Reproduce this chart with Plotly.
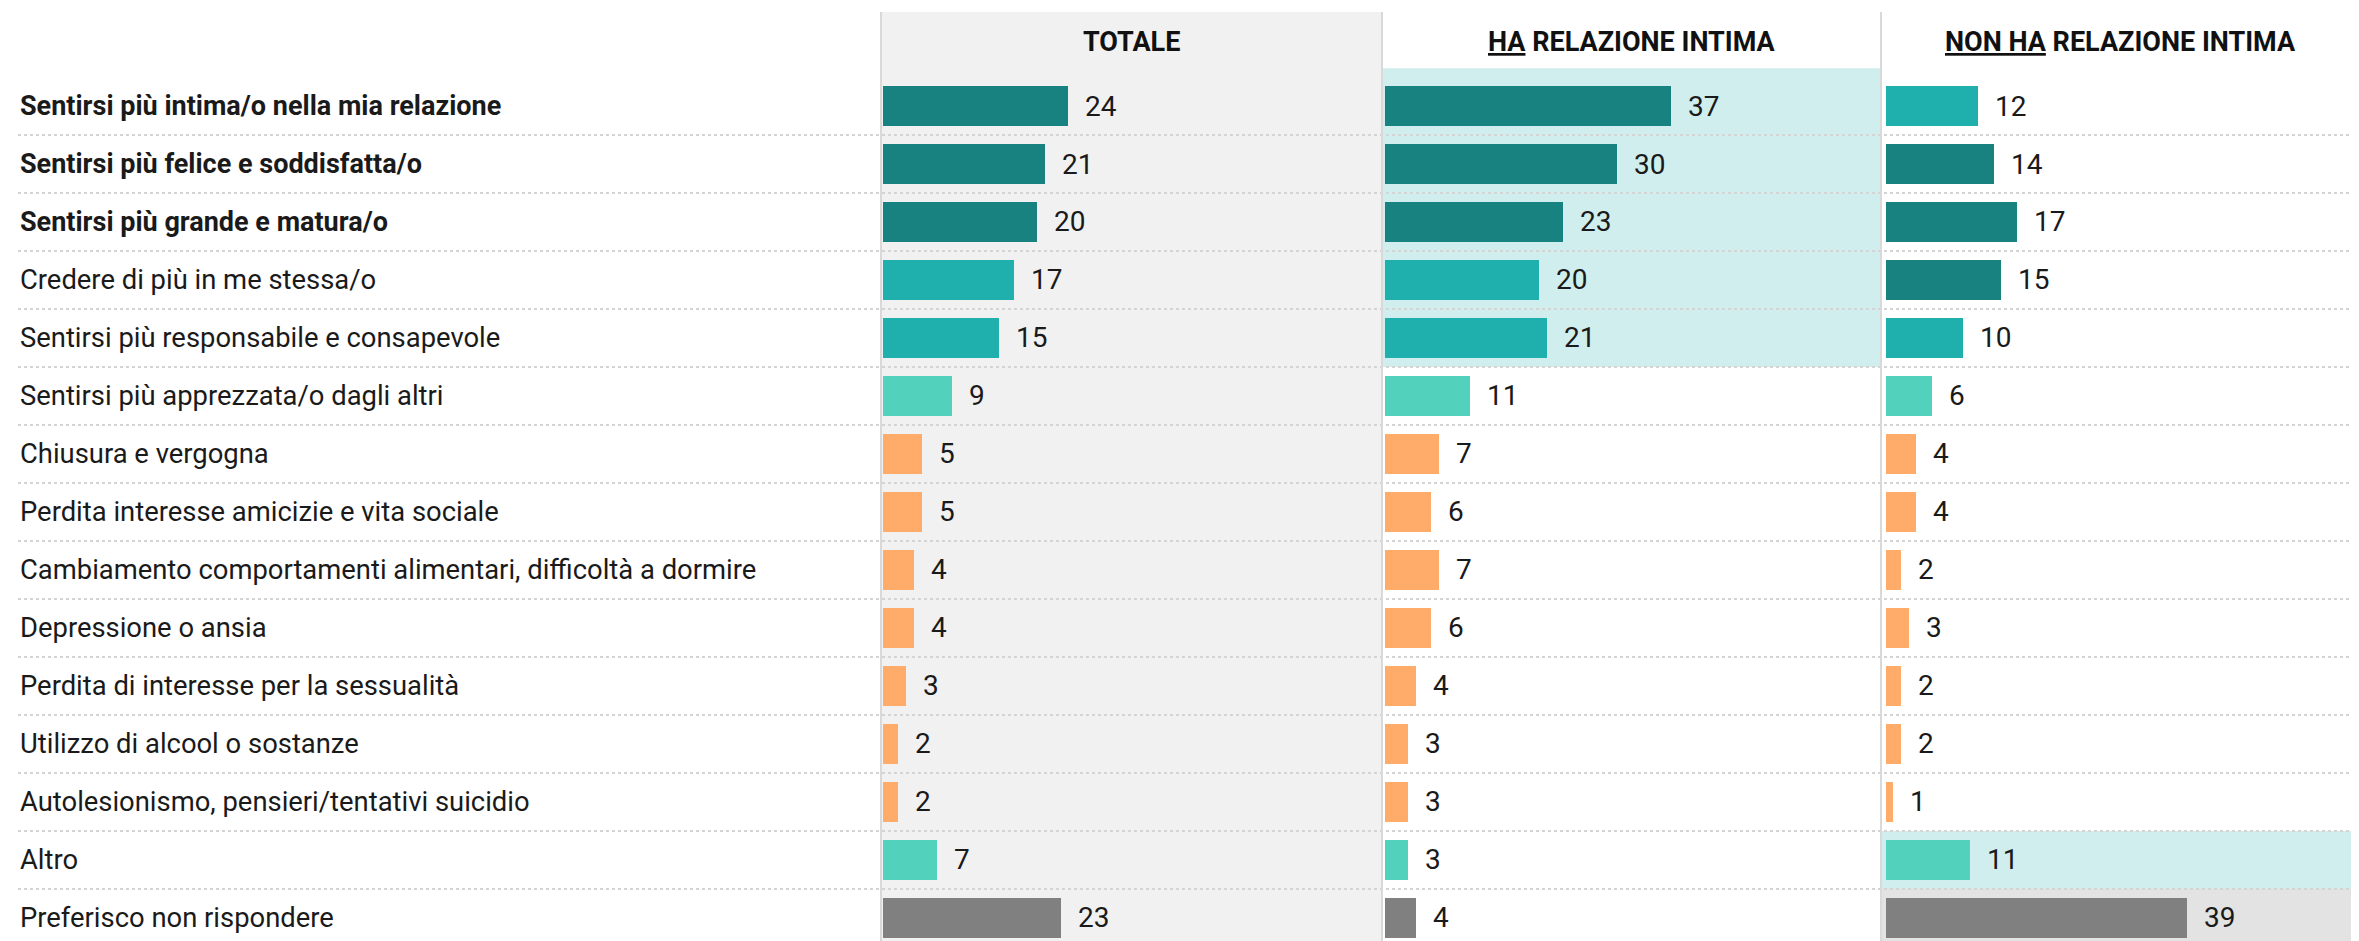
import plotly.graph_objects as go

# ---------------- data ----------------
categories = [
    "Sentirsi più intima/o nella mia relazione",
    "Sentirsi più felice e soddisfatta/o",
    "Sentirsi più grande e matura/o",
    "Credere di più in me stessa/o",
    "Sentirsi più responsabile e consapevole",
    "Sentirsi più apprezzata/o dagli altri",
    "Chiusura e vergogna",
    "Perdita interesse amicizie e vita sociale",
    "Cambiamento comportamenti alimentari, difficoltà a dormire",
    "Depressione o ansia",
    "Perdita di interesse per la sessualità",
    "Utilizzo di alcool o sostanze",
    "Autolesionismo, pensieri/tentativi suicidio",
    "Altro",
    "Preferisco non rispondere",
]
bold_rows = [0, 1, 2]

column_titles = ["TOTALE", "<u>HA</u> RELAZIONE INTIMA", "<u>NON HA</u> RELAZIONE INTIMA"]

totale = [24, 21, 20, 17, 15, 9, 5, 5, 4, 4, 3, 2, 2, 7, 23]
ha_relazione = [37, 30, 23, 20, 21, 11, 7, 6, 7, 6, 4, 3, 3, 3, 4]
non_ha_relazione = [12, 14, 17, 15, 10, 6, 4, 4, 2, 3, 2, 2, 1, 11, 39]

# ---------------- styles ----------------
palette = {
    "dark": "#17827f",
    "mid": "#1fb0ae",
    "mint": "#52d1bd",
    "orange": "#ffac6b",
    "gray": "#808080",
}
colors_totale = ["dark", "dark", "dark", "mid", "mid", "mint"] + ["orange"] * 7 + ["mint", "gray"]
colors_ha = ["dark", "dark", "dark", "mid", "mid", "mint"] + ["orange"] * 7 + ["mint", "gray"]
colors_non_ha = ["mid", "dark", "dark", "dark", "mid", "mint"] + ["orange"] * 7 + ["mint", "gray"]

series = [totale, ha_relazione, non_ha_relazione]
series_colors = [colors_totale, colors_ha, colors_non_ha]

# page has an 8px body margin: figure coords = page coords - 8
OFF = 8
W, H = 2359 - OFF, 941 - OFF
ML, MT = 881 - OFF, 12 - OFF
plot_w = W - ML
plot_h = H - MT
d1 = (1382 - 881) / plot_w
d2 = (1881 - 881) / plot_w
domains = [[0, d1], [d1, d2], [d2, 1]]
xranges = [[-0.259, 64.64], [-0.389, 64.25], [-0.583, 61.33]]
yrange = [14.397, -1.6207]
label_x = (18 - 881) / plot_w

FONT = "Roboto, 'Noto Sans', sans-serif"
TXT = "#1a1a1a"

rows = list(range(len(categories)))
fig = go.Figure()
axnames = ["x", "x2", "x3"]
for k in range(3):
    fig.add_trace(go.Bar(
        x=series[k], y=rows, orientation="h",
        xaxis=axnames[k], yaxis="y",
        marker=dict(color=[palette[c] for c in series_colors[k]], line=dict(width=0)),
        width=0.675, hoverinfo="skip", showlegend=False,
    ))

shapes = []
# panel 1 grey background
shapes.append(dict(type="rect", xref="x domain", yref="paper", x0=0, x1=1, y0=0, y1=1,
                   fillcolor="#f1f1f1", line=dict(width=0), layer="below"))
# panel 2 highlighted band (rows 1-5)
shapes.append(dict(type="rect", xref="x2 domain", yref="y", x0=0, x1=1, y0=-0.65, y1=4.5,
                   fillcolor="#d1eeee", line=dict(width=0), layer="below"))
# panel 3 highlighted rows
shapes.append(dict(type="rect", xref="x3 domain", yref="y", x0=0, x1=1, y0=12.5, y1=13.5,
                   fillcolor="#d1eeee", line=dict(width=0), layer="below"))
shapes.append(dict(type="rect", xref="x3 domain", yref="y", x0=0, x1=1, y0=13.5, y1=14.6,
                   fillcolor="#e3e3e3", line=dict(width=0), layer="below"))
# dotted separators
for i in rows[:-1]:
    shapes.append(dict(type="line", xref="paper", yref="y", x0=label_x, x1=1, y0=i + 0.5, y1=i + 0.5,
                       line=dict(color="#d4d4d4", width=2, dash="dot"), layer="below"))
# vertical panel borders
for ax in ["x", "x2", "x3"]:
    shapes.append(dict(type="line", xref=f"{ax} domain", yref="paper", x0=0, x1=0, y0=0, y1=1,
                       line=dict(color="#d9d9d9", width=2), layer="below"))

annotations = []
# row labels
for i, c in enumerate(categories):
    bold = i in bold_rows
    txt = f"<b>{c}</b>" if bold else c
    annotations.append(dict(xref="paper", yref="y", x=label_x, y=i, xanchor="left", yanchor="middle",
                            text=txt, showarrow=False,
                            font=dict(family=FONT, size=27 if bold else 27.4, color=TXT)))
# value labels
for k in range(3):
    for i, v in enumerate(series[k]):
        annotations.append(dict(xref=axnames[k], yref="y", x=v, y=i, xanchor="left", yanchor="middle",
                                xshift=15, text=str(v), showarrow=False,
                                font=dict(family=FONT, size=28, color=TXT)))
# column headers
header_y = 1 - (42 - 12) / plot_h
for k in range(3):
    annotations.append(dict(xref=f"{axnames[k]} domain", yref="paper", x=0.5, y=header_y,
                            xanchor="center", yanchor="middle", text=f"<b>{column_titles[k]}</b>",
                            showarrow=False, font=dict(family=FONT, size=27, color="#111111")))

layout = dict(
    width=W, height=H,
    margin=dict(l=ML, r=0, t=MT, b=0, pad=0),
    paper_bgcolor="white", plot_bgcolor="rgba(0,0,0,0)",
    bargap=0, showlegend=False,
    yaxis=dict(range=yrange, showgrid=False, zeroline=False, showticklabels=False,
               ticks="", showline=False, fixedrange=True),
    shapes=shapes, annotations=annotations,
)
for k in range(3):
    key = "xaxis" if k == 0 else f"xaxis{k+1}"
    layout[key] = dict(domain=domains[k], range=xranges[k], anchor="y", showgrid=False,
                       zeroline=False, showticklabels=False, ticks="", showline=False, fixedrange=True)
fig.update_layout(**layout)

fig.write_html("out.html")
